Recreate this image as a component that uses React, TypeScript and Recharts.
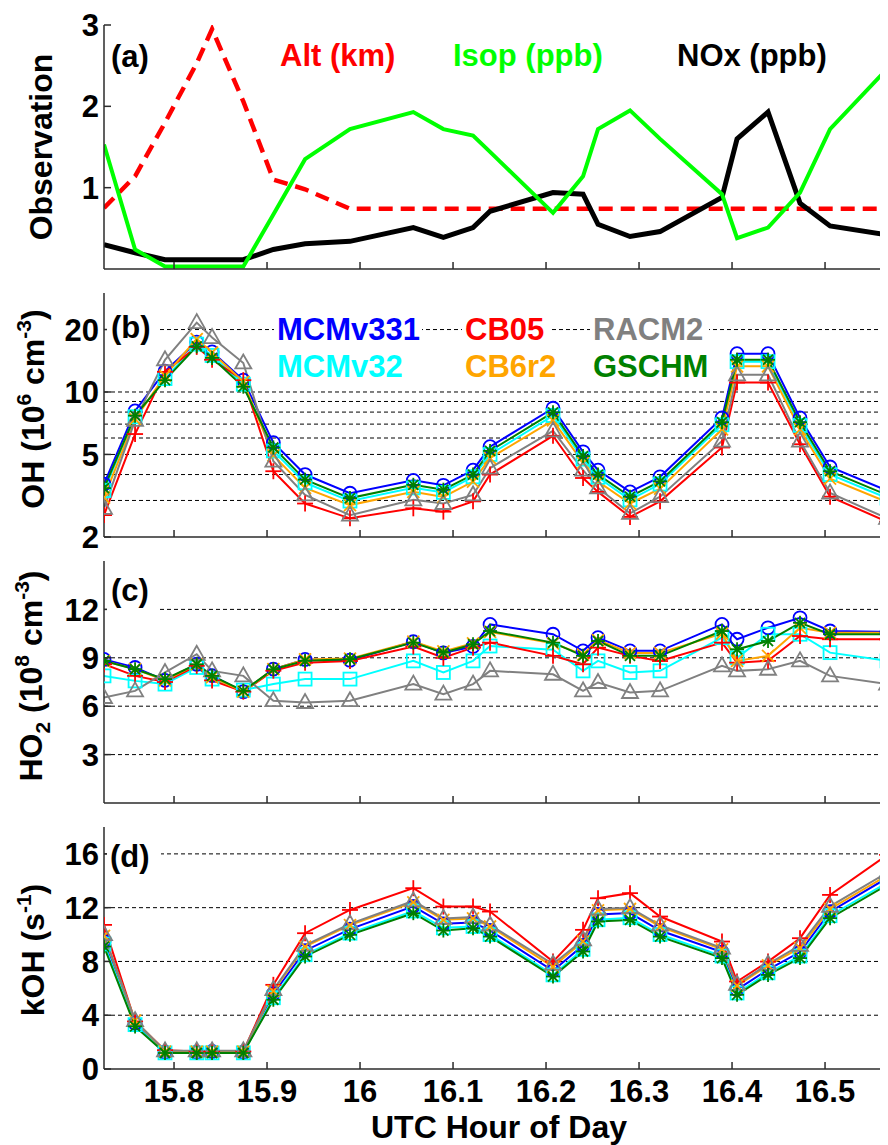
import React from 'react';
import { LineChart, Line, XAxis, YAxis, CartesianGrid } from 'recharts';

// ---------- data ----------
const hours = [15.7247, 15.7581, 15.7903, 15.8244, 15.8409, 15.8745, 15.9068, 15.9409, 15.9892, 16.0573, 16.0896, 16.1215, 16.1398, 16.2075, 16.2398, 16.2559, 16.2903, 16.3226, 16.3892, 16.4054, 16.4387, 16.4731, 16.5054, 16.5667];

const altKm = [0.75, 1.14, 1.80, 2.53, 2.95, 2.06, 1.10, 0.98, 0.74, 0.74, 0.74, 0.74, 0.74, 0.74, 0.74, 0.74, 0.74, 0.74, 0.74, 0.74, 0.74, 0.74, 0.74, 0.74];
const isopPpb = [1.53, 0.24, 0.03, 0.03, 0.03, 0.03, 0.67, 1.35, 1.72, 1.93, 1.72, 1.64, 1.44, 0.69, 1.14, 1.72, 1.95, 1.60, 0.92, 0.38, 0.51, 0.94, 1.72, 2.46];
const noxPpb = [0.30, 0.20, 0.115, 0.115, 0.115, 0.115, 0.24, 0.31, 0.34, 0.51, 0.39, 0.51, 0.71, 0.94, 0.92, 0.55, 0.40, 0.46, 0.88, 1.60, 1.93, 0.81, 0.53, 0.42];

const ohMCMv331 = [3.6, 8.1, 12.6, 17.4, 15.6, 11.4, 5.7, 4.0, 3.25, 3.75, 3.55, 4.2, 5.45, 8.35, 5.15, 4.2, 3.3, 3.9, 7.5, 15.3, 15.3, 7.5, 4.35, 3.35];
const ohMCMv32 = [3.35, 7.6, 11.6, 17.0, 15.0, 10.9, 5.2, 3.65, 2.98, 3.45, 3.28, 3.9, 5.0, 7.7, 4.75, 3.88, 3.02, 3.6, 6.95, 14.0, 14.0, 6.9, 4.0, 3.08];
const ohCB05 = [2.55, 6.27, 12.5, 16.5, 14.3, 11.4, 4.15, 2.9, 2.46, 2.75, 2.65, 2.97, 4.0, 6.15, 3.85, 3.3, 2.5, 2.97, 5.4, 11.1, 11.1, 5.6, 3.13, 2.37];
const ohCB6r2 = [3.1, 7.4, 12.0, 18.0, 15.5, 11.2, 4.95, 3.45, 2.85, 3.3, 3.12, 3.7, 4.8, 7.3, 4.55, 3.7, 2.9, 3.42, 6.6, 13.3, 13.3, 6.6, 3.82, 2.95];
const ohRACM2 = [2.75, 7.3, 14.3, 21.6, 18.3, 13.8, 4.64, 3.19, 2.55, 3.02, 2.9, 3.19, 4.3, 6.5, 4.2, 3.45, 2.6, 3.13, 5.8, 12.1, 12.1, 5.8, 3.26, 2.46];
const ohGSCHM = [3.44, 7.69, 11.4, 16.6, 14.6, 10.6, 5.4, 3.78, 3.08, 3.57, 3.38, 4.0, 5.2, 7.98, 4.91, 4.0, 3.13, 3.71, 7.15, 14.3, 14.3, 7.15, 4.15, 3.19];

const ho2MCMv331 = [8.9, 8.4, 7.6, 8.6, 7.9, 6.9, 8.3, 8.9, 8.85, 10.0, 9.3, 9.7, 11.07, 10.46, 9.43, 10.25, 9.43, 9.43, 11.07, 10.15, 10.86, 11.48, 10.66, 10.6];
const ho2MCMv32 = [7.88, 7.57, 7.37, 8.4, 7.68, 7.0, 7.37, 7.68, 7.68, 8.81, 8.09, 8.81, 9.73, 9.5, 8.19, 8.81, 8.09, 8.19, 10.25, 9.0, 10.46, 10.46, 9.32, 8.81];
const ho2CB05 = [8.6, 7.88, 7.5, 8.5, 7.6, 6.9, 8.2, 8.7, 8.8, 9.7, 9.0, 9.63, 9.94, 9.12, 8.6, 9.63, 9.12, 8.8, 9.94, 8.7, 8.81, 10.35, 10.15, 10.15];
const ho2CB6r2 = [8.8, 8.3, 7.6, 8.6, 7.8, 6.9, 8.3, 8.9, 8.95, 10.0, 9.4, 9.9, 10.6, 9.9, 9.2, 10.1, 9.3, 9.3, 10.5, 8.81, 9.12, 10.86, 10.56, 10.56];
const ho2RACM2 = [6.54, 6.95, 8.09, 9.22, 8.19, 7.88, 6.34, 6.23, 6.34, 7.37, 6.75, 7.37, 8.19, 7.98, 6.95, 7.47, 6.85, 6.95, 8.5, 8.19, 8.29, 8.81, 7.88, 7.37];
const ho2GSCHM = [8.81, 8.29, 7.68, 8.6, 7.88, 6.95, 8.29, 8.81, 8.91, 9.94, 9.32, 9.84, 10.66, 9.94, 9.12, 10.04, 9.12, 9.12, 10.66, 9.53, 10.04, 11.17, 10.46, 10.46];

const kohMCMv331 = [9.5, 3.4, 1.25, 1.25, 1.3, 1.25, 5.6, 8.8, 10.4, 12.1, 10.8, 10.9, 10.3, 7.3, 9.2, 11.5, 11.6, 10.3, 8.7, 5.9, 7.4, 8.7, 11.7, 14.2];
const kohMCMv32 = [9.3, 3.3, 1.2, 1.2, 1.2, 1.2, 5.3, 8.5, 10.1, 11.75, 10.5, 10.6, 10.0, 7.0, 8.9, 11.1, 11.25, 10.0, 8.4, 5.65, 7.15, 8.4, 11.4, 13.85];
const kohCB05 = [10.72, 3.54, 1.4, 1.3, 1.3, 1.3, 6.26, 10.1, 11.83, 13.45, 12.08, 12.08, 11.71, 7.99, 10.35, 12.7, 13.08, 11.34, 9.48, 6.51, 7.99, 9.73, 12.95, 15.92];
const kohCB6r2 = [9.9, 3.6, 1.3, 1.3, 1.3, 1.3, 5.8, 9.1, 10.7, 12.4, 11.1, 11.2, 10.6, 7.6, 9.5, 11.8, 11.9, 10.6, 8.9, 6.2, 7.7, 9.0, 11.9, 14.4];
const kohRACM2 = [10.0, 3.6, 1.35, 1.35, 1.35, 1.35, 5.9, 9.2, 10.8, 12.5, 11.2, 11.3, 10.7, 7.8, 9.6, 11.9, 12.0, 10.7, 9.0, 6.3, 7.8, 9.2, 12.1, 14.6];
const kohGSCHM = [9.11, 3.17, 1.19, 1.19, 1.19, 1.19, 5.15, 8.37, 9.98, 11.59, 10.3, 10.47, 9.85, 6.88, 8.74, 10.97, 11.09, 9.85, 8.25, 5.52, 7.0, 8.25, 11.22, 13.69];

const xTicks = [15.8, 15.9, 16, 16.1, 16.2, 16.3, 16.4, 16.5];
const obsTicks = [1, 2, 3];
const ohTicks = [2, 5, 10, 20];
const ohGrid = [3, 4, 5, 6, 7, 8, 9, 10, 20];
const ho2Ticks = [3, 6, 9, 12];
const kohTicks = [0, 4, 8, 12, 16];
const kohGrid = [4, 8, 12, 16];

const models = ['MCMv331', 'MCMv32', 'CB05', 'CB6r2', 'RACM2', 'GSCHM'];

// ---------- styling ----------
const X_DOMAIN: [number, number] = [15.7247, 16.5677];
const FONT = '"Liberation Sans", Arial, Helvetica, sans-serif';
const FRAME = '#2b2b2b';
const modelStyle: Record<string, { color: string; marker: string }> = {
  MCMv331: { color: '#0000FF', marker: 'circle' },
  MCMv32: { color: '#00FFFF', marker: 'square' },
  CB05: { color: '#FF0000', marker: 'plus' },
  CB6r2: { color: '#FFA500', marker: 'x' },
  RACM2: { color: '#808080', marker: 'triangle' },
  GSCHM: { color: '#008000', marker: 'asterisk' },
};

const rowsA = hours.map((h, i) => ({ h, alt: altKm[i], isop: isopPpb[i], nox: noxPpb[i] }));
const rowsB = hours.map((h, i) => ({ h, MCMv331: ohMCMv331[i], MCMv32: ohMCMv32[i], CB05: ohCB05[i], CB6r2: ohCB6r2[i], RACM2: ohRACM2[i], GSCHM: ohGSCHM[i] }));
const rowsC = hours.map((h, i) => ({ h, MCMv331: ho2MCMv331[i], MCMv32: ho2MCMv32[i], CB05: ho2CB05[i], CB6r2: ho2CB6r2[i], RACM2: ho2RACM2[i], GSCHM: ho2GSCHM[i] }));
const rowsD = hours.map((h, i) => ({ h, MCMv331: kohMCMv331[i], MCMv32: kohMCMv32[i], CB05: kohCB05[i], CB6r2: kohCB6r2[i], RACM2: kohRACM2[i], GSCHM: kohGSCHM[i] }));

function Marker({ cx, cy, kind, color }: any) {
  const sw = 1.8;
  switch (kind) {
    case 'circle':
      return <circle cx={cx} cy={cy} r={6.5} fill="none" stroke={color} strokeWidth={sw} />;
    case 'square':
      return <rect x={cx - 6.5} y={cy - 6.5} width={13} height={13} fill="none" stroke={color} strokeWidth={sw} />;
    case 'plus':
      return (
        <g stroke={color} strokeWidth={sw}>
          <line x1={cx - 8} x2={cx + 8} y1={cy} y2={cy} />
          <line x1={cx} x2={cx} y1={cy - 8} y2={cy + 8} />
        </g>
      );
    case 'x':
      return (
        <g stroke={color} strokeWidth={sw}>
          <line x1={cx - 6} x2={cx + 6} y1={cy - 6} y2={cy + 6} />
          <line x1={cx - 6} x2={cx + 6} y1={cy + 6} y2={cy - 6} />
        </g>
      );
    case 'triangle':
      return <polygon points={`${cx},${cy - 8.5} ${cx - 8},${cy + 5.5} ${cx + 8},${cy + 5.5}`} fill="none" stroke={color} strokeWidth={sw} />;
    case 'asterisk':
    default:
      return (
        <g stroke={color} strokeWidth={sw}>
          <line x1={cx - 7} x2={cx + 7} y1={cy} y2={cy} />
          <line x1={cx} x2={cx} y1={cy - 7} y2={cy + 7} />
          <line x1={cx - 5} x2={cx + 5} y1={cy - 5} y2={cy + 5} />
          <line x1={cx - 5} x2={cx + 5} y1={cy + 5} y2={cy - 5} />
        </g>
      );
  }
}

const dotRenderer = (kind: string, color: string) => (props: any) => {
  const { cx, cy, index } = props;
  if (cx == null || cy == null || isNaN(cx) || isNaN(cy)) return <g key={`e${index}`} />;
  return <g key={`m${index}`}><Marker cx={cx} cy={cy} kind={kind} color={color} /></g>;
};

const XTickBottom = (props: any) => {
  const { x, y, payload, showLabel } = props;
  return (
    <g>
      <line x1={x} x2={x} y1={y} y2={y - 7} stroke={FRAME} strokeWidth={1.5} />
      {showLabel && (
        <text x={x} y={y + 33} textAnchor="middle" fontFamily={FONT} fontWeight="bold" fontSize={31} fill="#000">
          {String(payload.value)}
        </text>
      )}
    </g>
  );
};

const XTickTop = (props: any) => {
  const { x, y } = props;
  return <line x1={x} x2={x} y1={y} y2={y + 7} stroke={FRAME} strokeWidth={1.5} />;
};

const YTick = (props: any) => {
  const { x, y, payload } = props;
  return (
    <g>
      <line x1={x} x2={x + 7} y1={y} y2={y} stroke={FRAME} strokeWidth={1.5} />
      <text x={x - 5} y={y} dy="0.36em" textAnchor="end" fontFamily={FONT} fontWeight="bold" fontSize={31} fill="#000">
        {String(payload.value)}
      </text>
    </g>
  );
};

const axisLine = { stroke: FRAME, strokeWidth: 1.5 };

function Panel({ top, plotH, data, yDomain, yTicks, yScale, grid, showXLabels, children }: any) {
  const padT = 22;
  const bottomH = showXLabels ? 1145 - (top + plotH) : 22;
  return (
    <div style={{ position: 'absolute', left: 0, top: top - padT }}>
      <LineChart width={888} height={padT + plotH + bottomH} data={data} margin={{ top: padT, right: 0, bottom: 0, left: 0 }}>
        {grid && (
          <CartesianGrid vertical={false} horizontalValues={grid} stroke="#000" strokeWidth={1} strokeDasharray="4 3" />
        )}
        <XAxis
          dataKey="h"
          type="number"
          domain={X_DOMAIN}
          ticks={xTicks}
          interval={0}
          allowDataOverflow
          height={bottomH}
          axisLine={axisLine}
          tickLine={false}
          tickSize={0}
          tickMargin={0}
          tick={(p: any) => <XTickBottom {...p} showLabel={showXLabels} />}
        />
        <XAxis
          xAxisId="top"
          orientation="top"
          dataKey="h"
          type="number"
          domain={X_DOMAIN}
          ticks={xTicks}
          interval={0}
          allowDataOverflow
          height={0}
          axisLine={axisLine}
          tickLine={false}
          tickSize={0}
          tickMargin={0}
          tick={(p: any) => <XTickTop {...p} />}
        />
        <YAxis
          type="number"
          scale={yScale || 'linear'}
          domain={yDomain}
          ticks={yTicks}
          interval={0}
          allowDataOverflow
          width={104}
          axisLine={axisLine}
          tickLine={false}
          tickSize={0}
          tickMargin={0}
          tick={(p: any) => <YTick {...p} />}
        />
        {children}
      </LineChart>
    </div>
  );
}

function modelLines() {
  return models.map((m) => (
    <Line
      key={m}
      dataKey={m}
      name={m}
      type="linear"
      stroke={modelStyle[m].color}
      strokeWidth={2}
      dot={dotRenderer(modelStyle[m].marker, modelStyle[m].color)}
      activeDot={false}
      isAnimationActive={false}
    />
  ));
}

const txt = { fontFamily: FONT, fontWeight: 'bold' as const, fontSize: 31 };

export default function App() {
  return (
    <div style={{ position: 'relative', width: 888, height: 1145, margin: '-8px 0 0 -8px', overflow: 'hidden', background: '#fff', fontFamily: FONT }}>
      <Panel top={25} plotH={244} data={rowsA} yDomain={[0, 3]} yTicks={obsTicks}>
        <Line dataKey="alt" name="Alt (km)" type="linear" stroke="#FF0000" strokeWidth={4.5} strokeDasharray="14 8" dot={false} activeDot={false} isAnimationActive={false} />
        <Line dataKey="nox" name="NOx (ppb)" type="linear" stroke="#000000" strokeWidth={5} dot={false} activeDot={false} isAnimationActive={false} />
        <Line dataKey="isop" name="Isop (ppb)" type="linear" stroke="#00FF00" strokeWidth={4} dot={false} activeDot={false} isAnimationActive={false} />
      </Panel>
      <Panel top={293} plotH={244} data={rowsB} yDomain={[2, 30]} yTicks={ohTicks} yScale="log" grid={ohGrid}>
        {modelLines()}
      </Panel>
      <Panel top={561} plotH={242} data={rowsC} yDomain={[0, 15]} yTicks={ho2Ticks} grid={ho2Ticks}>
        {modelLines()}
      </Panel>
      <Panel top={827} plotH={242} data={rowsD} yDomain={[0, 18]} yTicks={kohTicks} grid={kohGrid} showXLabels>
        {modelLines()}
      </Panel>

      <svg width={888} height={1145} style={{ position: 'absolute', left: 0, top: 0, pointerEvents: 'none' }}>
        {/* y axis titles */}
        <text transform="translate(52,147) rotate(-90)" textAnchor="middle" fontFamily={FONT} fontWeight="bold" fontSize={32}>Observation</text>
        <text transform="translate(44,409) rotate(-90)" textAnchor="middle" fontFamily={FONT} fontWeight="bold" fontSize={32}>
          OH (10<tspan fontSize={21} dy={-13}>6</tspan><tspan dy={13}> cm</tspan><tspan fontSize={21} dy={-13}>-3</tspan><tspan dy={13}>)</tspan>
        </text>
        <text transform="translate(42,676) rotate(-90)" textAnchor="middle" fontFamily={FONT} fontWeight="bold" fontSize={32}>
          HO<tspan fontSize={21} dy={8}>2</tspan><tspan dy={-8}> (10</tspan><tspan fontSize={21} dy={-13}>8</tspan><tspan dy={13}> cm</tspan><tspan fontSize={21} dy={-13}>-3</tspan><tspan dy={13}>)</tspan>
        </text>
        <text transform="translate(44,950) rotate(-90)" textAnchor="middle" fontFamily={FONT} fontWeight="bold" fontSize={32}>
          kOH (s<tspan fontSize={21} dy={-13}>-1</tspan><tspan dy={13}>)</tspan>
        </text>
        {/* x axis title */}
        <text x={499} y={1138} textAnchor="middle" fontFamily={FONT} fontWeight="bold" fontSize={32}>UTC Hour of Day</text>

        {/* panel (a) annotations */}
        <text x={111} y={67} {...txt} fill="#000">(a)</text>
        <text x={280} y={66} {...txt} fill="#FF0000">Alt (km)</text>
        <text x={453} y={66} {...txt} fill="#00FF00">Isop (ppb)</text>
        <text x={677} y={66} {...txt} fill="#000">NOx (ppb)</text>

        {/* panel (b) annotations & legend */}
        <rect x={107} y={312} width={51} height={34} fill="#fff" />
        <text x={111} y={338} {...txt} fill="#000">(b)</text>
        <rect x={274} y={314} width={148} height={32} fill="#fff" />
        <rect x={462} y={314} width={89} height={32} fill="#fff" />
        <rect x={590} y={314} width={119} height={32} fill="#fff" />
        <text x={277} y={340} {...txt} fill="#0000FF">MCMv331</text>
        <text x={277} y={377} {...txt} fill="#00FFFF">MCMv32</text>
        <text x={465} y={340} {...txt} fill="#FF0000">CB05</text>
        <text x={465} y={377} {...txt} fill="#FFA500">CB6r2</text>
        <text x={593} y={340} {...txt} fill="#808080">RACM2</text>
        <text x={593} y={377} {...txt} fill="#008000">GSCHM</text>

        {/* panel (c) */}
        <rect x={107} y={577} width={51} height={36} fill="#fff" />
        <text x={111} y={601} {...txt} fill="#000">(c)</text>

        {/* panel (d) */}
        <rect x={107} y={841} width={54} height={36} fill="#fff" />
        <text x={110} y={867} {...txt} fill="#000">(d)</text>
      </svg>
    </div>
  );
}
